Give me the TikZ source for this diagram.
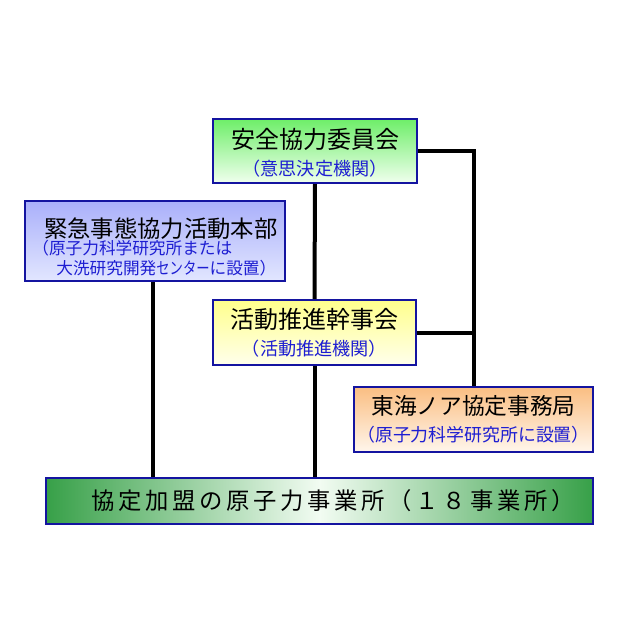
\documentclass[tikz,border=0pt]{standalone}
\usepackage{fontspec}
\newfontfamily\jpfont{Noto Sans CJK JP}
\newfontfamily\jpwide[LetterSpace=16]{Noto Sans CJK JP}
\definecolor{frameblue}{RGB}{20,20,160}
\definecolor{subblue}{RGB}{30,30,210}
\definecolor{greentop}{RGB}{110,238,105}
\definecolor{greenbot}{RGB}{240,255,238}
\definecolor{bluetop}{RGB}{170,176,250}
\definecolor{bluebot}{RGB}{226,230,255}
\definecolor{yellowtop}{RGB}{255,255,140}
\definecolor{yellowbot}{RGB}{255,255,236}
\definecolor{orangetop}{RGB}{250,190,130}
\definecolor{orangebot}{RGB}{255,246,236}
\definecolor{darkgreen}{RGB}{55,160,72}
\definecolor{palegreen}{RGB}{242,252,242}
\newcommand{\subline}[2][13.6]{{\fontsize{#1}{16}\selectfont\color{subblue}#2}}
\begin{document}
\begin{tikzpicture}[x=0.75pt,y=-0.75pt,
    box/.style={draw=frameblue,line width=1.5pt,rectangle,inner sep=0pt,
      font=\jpfont\fontsize{18}{21}\selectfont,align=center},
    link/.style={line width=3pt}]
  \useasboundingbox (0,0) rectangle (640,640);
  % boxes
  \node[box,minimum width=153pt,minimum height=48pt,
    top color=greentop,bottom color=greenbot] (safety) at (315,151)
    {\rule{0pt}{18pt}安全協力委員会\\[-1pt]\subline{（意思決定機関）}};
  \node[box,minimum width=195pt,minimum height=60pt,align=left,
    top color=bluetop,bottom color=bluebot,
    font=\jpfont\fontsize{17.5}{18}\selectfont] (emergency) at (155,241)
    {\rule{0pt}{24pt}\hspace{9pt}緊急事態協力活動本部\\[-5pt]
     \subline[12.5]{（原子力科学研究所または}\\[-3pt]
     \subline[12.5]{\hspace{18pt}大洗研究開発\scalebox{0.8}[1]{センター}に設置）}};
  \node[box,minimum width=152.25pt,minimum height=48.75pt,
    top color=yellowtop,bottom color=yellowbot] (promo) at (314.5,332.5)
    {活動推進幹事会\\[-1pt]\subline{（活動推進機関）}};
  \node[box,minimum width=179.25pt,minimum height=48.75pt,
    top color=orangetop,bottom color=orangebot,
    font=\jpfont\fontsize{17}{21}\selectfont] (office) at (473.5,419.5)
    {東海ノア協定事務局\\[-1pt]\subline[13.4]{（原子力科学研究所に設置）}};
  \node[box,minimum width=410.25pt,minimum height=34.5pt,
    left color=darkgreen,right color=darkgreen,middle color=palegreen,
    font=\jpwide\fontsize{17.5}{20}\selectfont] (members) at (319.5,501)
    {\hspace*{20pt}協定加盟の原子力事業所（１８事業所）};
  % connectors
  \draw[link] (safety.east) -| (office.north);
  \draw[link] (promo.east) -- (promo.east -| office.north);
  \draw[link] (safety.south) -- (promo.north);
  \draw[link] (promo.south) -- (promo.south |- members.north);
  \draw[link] ([xshift=-1.5pt]emergency.south) -- ([xshift=-1.5pt]emergency.south |- members.north);
\end{tikzpicture}
\end{document}
